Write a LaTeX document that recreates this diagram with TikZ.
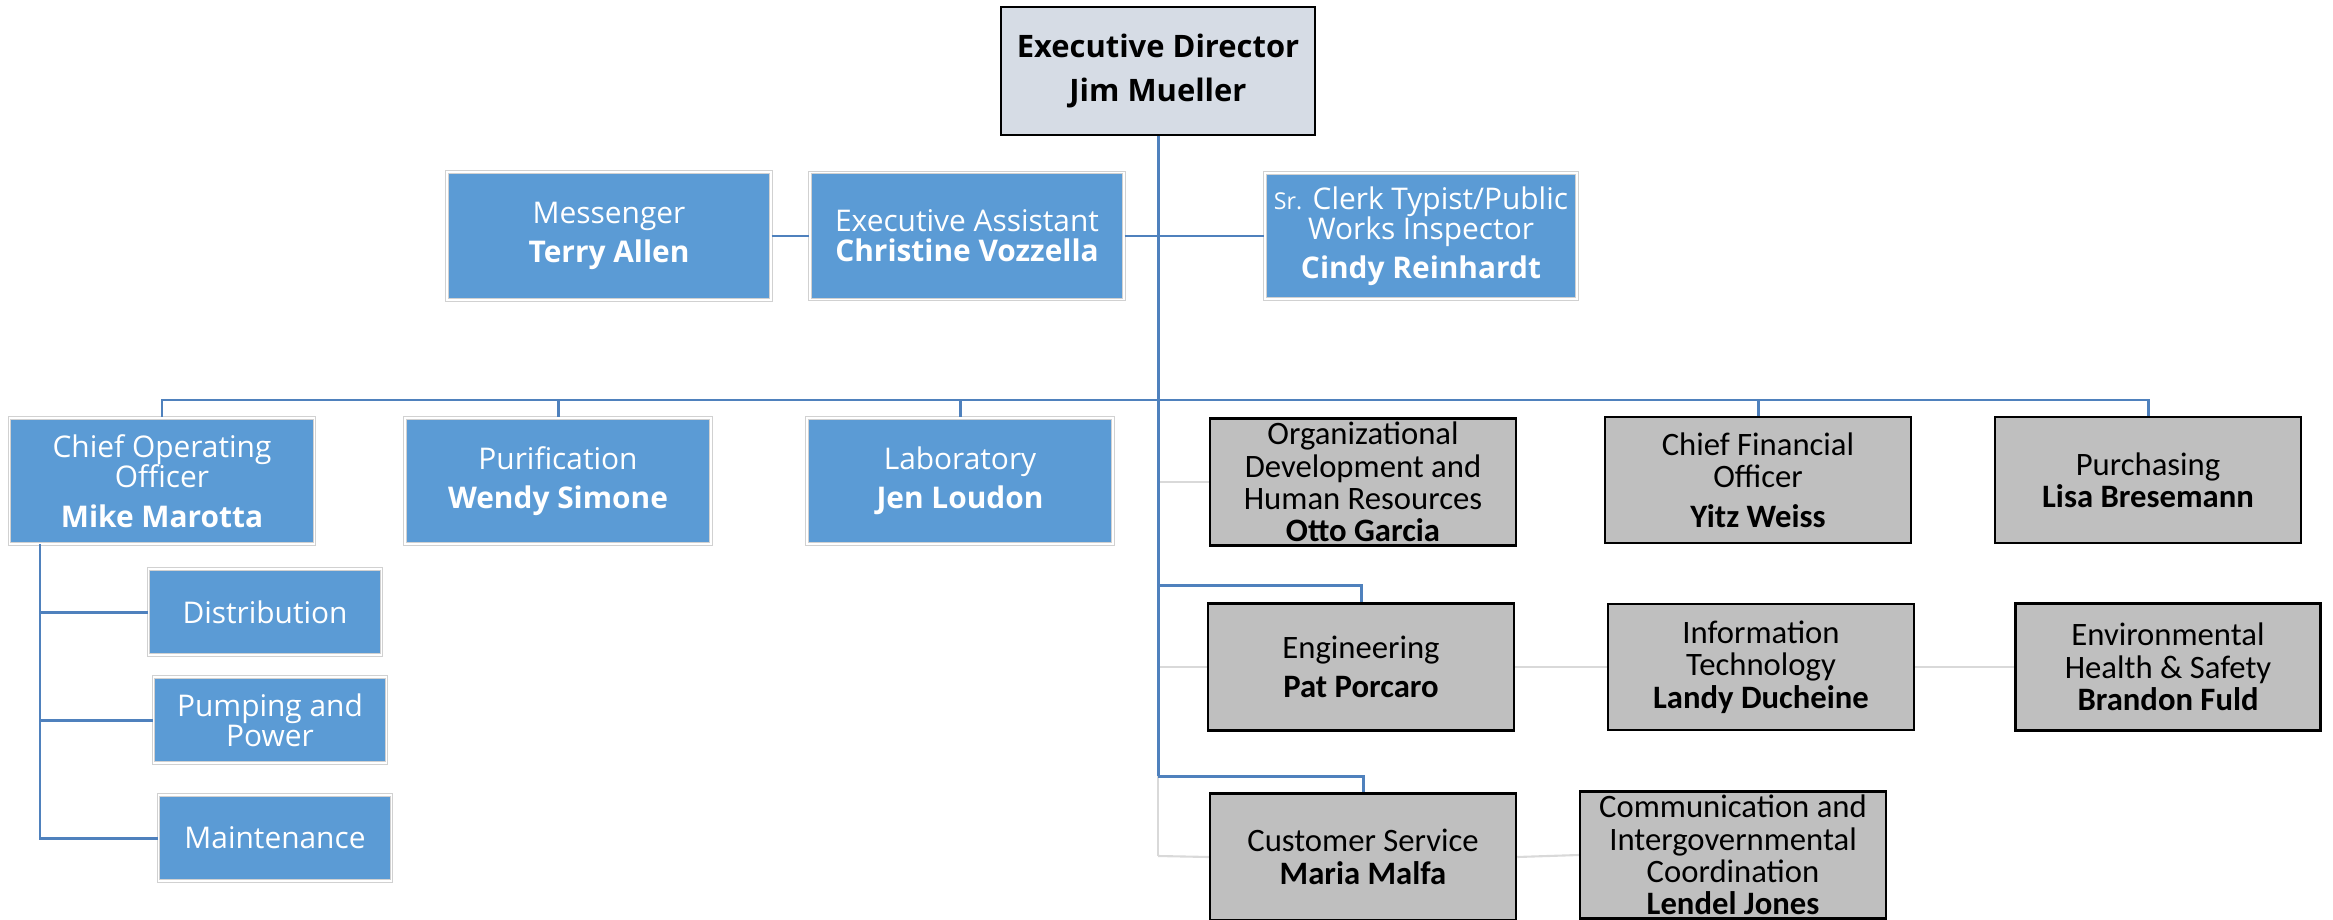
\documentclass[tikz,border=0pt]{standalone}
\usepackage{fontspec}
\setmainfont{Open Sans}
\newfontfamily\calibri{Carlito}
\definecolor{box_blue}{RGB}{91,155,213}
\definecolor{box_gray}{RGB}{191,191,191}
\definecolor{box_top}{RGB}{214,220,229}
\definecolor{edge_blue}{RGB}{79,129,189}
\definecolor{edge_faint}{RGB}{217,217,217}

\begin{document}
\begin{tikzpicture}[x=0.1mm,y=-0.1mm]
    \tikzstyle{box}=[rectangle, minimum width=30.6mm, minimum height=12.6mm, inner sep=1pt, align=center]
    \tikzstyle{bl}=[style=box, fill=box_blue, draw=black!18, double=white, double distance=0.45pt, line width=0.3pt, text=white, font=\fontsize{8.5}{8.6}\selectfont]
    \tikzstyle{gr}=[style=box, fill=box_gray, draw=black, line width=0.7pt, text=black, font=\calibri\fontsize{9.3}{9.2}\selectfont]
    \tikzstyle{ed}=[style=box, fill=box_top, draw=black, line width=0.7pt, text=black, font=\bfseries\fontsize{8.8}{12.3}\selectfont]
    \tikzstyle{sub}=[style=bl, minimum width=23.3mm, minimum height=8.6mm]
    \tikzstyle{link}=[draw=edge_blue, line width=0.85pt]
    \tikzstyle{faint}=[draw=edge_faint, line width=0.6pt]
    \tikzstyle{hv}=[to path={-| (\tikztotarget)}]
    \tikzstyle{vh}=[to path={|- (\tikztotarget)}]

    \useasboundingbox (0,0) rectangle (2333,920);

    \node[ed, minimum width=31.4mm, minimum height=12.8mm] (ed) at (1158,71) {Executive Director\\Jim Mueller};

    \node[bl, minimum width=32.4mm, minimum height=12.8mm] (msg) at (609,236) {Messenger\\[2.4pt]\textbf{Terry Allen}};
    \node[bl, minimum width=31.4mm, minimum height=12.7mm] (asst) at (967,236) {Executive Assistant\\\textbf{Christine Vozzella}};
    \node[bl, minimum width=31.2mm] (clerk) at (1421,236) {{\fontsize{6.6}{8}\selectfont Sr.} Clerk Typist/Public\\Works Inspector\\[2.4pt]\textbf{Cindy Reinhardt}};

    \node[bl, minimum width=30.5mm] (coo) at (162,481) {Chief Operating\\Officer\\[2.6pt]\textbf{Mike Marotta}};
    \node[bl] (purif) at (558,481) {Purification\\[2.4pt]\textbf{Wendy Simone}};
    \node[bl] (lab) at (960,481) {Laboratory\\[2.4pt]\textbf{Jen Loudon}};
    \node[gr, minimum height=12.7mm] (org) at (1363,482) {Organizational\\Development and\\Human Resources\\\textbf{Otto Garcia}};
    \node[gr] (cfo) at (1758,480) {Chief Financial\\Officer\\[2pt]\textbf{Yitz Weiss}};
    \node[gr] (purch) at (2148,480) {Purchasing\\\textbf{Lisa Bresemann}};

    \node[sub] (dist) at (265,612) {Distribution};
    \node[sub] (pump) at (270,720) {Pumping and\\Power};
    \node[sub] (maint) at (275,838) {Maintenance};

    \node[gr, minimum height=12.7mm] (eng) at (1361,667) {Engineering\\[2pt]\textbf{Pat Porcaro}};
    \node[gr] (it) at (1761,667) {Information\\Technology\\\textbf{Landy Ducheine}};
    \node[gr, minimum width=30.5mm, minimum height=12.7mm] (ehs) at (2168,667) {Environmental\\Health \& Safety\\\textbf{Brandon Fuld}};

    \node[gr, minimum height=12.7mm] (cs) at (1363,857) {Customer Service\\\textbf{Maria Malfa}};
    \node[gr] (comm) at (1733,855) {Communication and\\Intergovernmental\\Coordination\\\textbf{Lendel Jones}};

    \coordinate (bus) at (1158,400);
    \coordinate (j0) at (1158,482);
    \coordinate (j1) at (1158,585);
    \coordinate (j2) at (1158,667);
    \coordinate (j3) at (1158,776);
    \coordinate (j4) at (1158,856);
    \coordinate (cj) at (40,544);

    \path
     (j0) edge[faint] (org.west)
     (j2) edge[faint] (eng.west)
     (eng.east) edge[faint] (it.west)
     (it.east) edge[faint] (ehs.west)
     (j3) edge[faint] (j4)
     (j4) edge[faint] (cs.west)
     (cs.east) edge[faint] (comm.west)
     ;
    \path
     (ed.south) edge[link] (j3)
     (msg.east) edge[link] (asst.west)
     (asst.east) edge[link] (clerk.west)
     (bus) edge[link,hv] (coo.north)
     (bus) edge[link,hv] (purif.north)
     (bus) edge[link,hv] (lab.north)
     (bus) edge[link,hv] (cfo.north)
     (bus) edge[link,hv] (purch.north)
     (j1) edge[link,hv] (eng.north)
     (j3) edge[link,hv] (cs.north)
     (cj) edge[link,vh] (dist.west)
     (cj) edge[link,vh] (pump.west)
     (cj) edge[link,vh] (maint.west)
     ;
\end{tikzpicture}
\end{document}
